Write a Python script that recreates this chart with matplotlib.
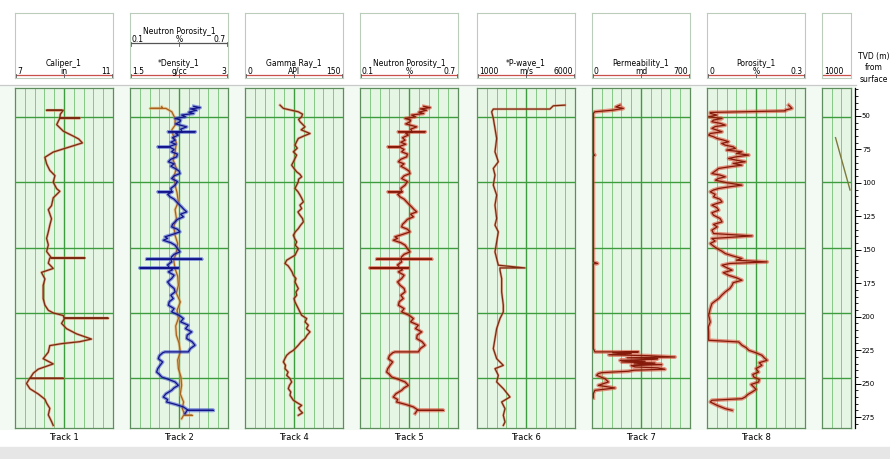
import numpy as np
import matplotlib.pyplot as plt
from matplotlib.ticker import MultipleLocator

# ---- values (depth = TVD in m) ----

# Track 1 : Caliper_1 (in)
cal_depth = [45, 45, 45, 48, 51, 51, 51, 56, 61, 65, 67, 70, 73, 77, 81, 86, 91, 95, 100, 105,
             107, 112, 118, 121, 128, 133, 138, 143, 148, 153, 158, 158, 158, 162, 166, 169, 174,
             179, 184, 189, 194, 198, 200, 202, 204, 204, 204, 208, 212, 216, 220, 222, 223.5,
             225, 230, 235, 239, 243, 246, 250, 250, 250, 254, 258, 262, 266, 269, 273, 278, 283, 286]
cal_in = [8.90, 8.29, 8.97, 8.85, 8.83, 9.64, 8.83, 8.70, 8.97, 9.40, 9.60, 9.75, 9.24, 8.56,
          8.22, 8.29, 8.42, 8.63, 8.56, 8.70, 8.83, 8.56, 8.49, 8.36, 8.49, 8.42, 8.36, 8.29,
          8.36, 8.29, 8.49, 9.85, 8.42, 8.36, 8.56, 8.08, 8.22, 8.15, 8.15, 8.15, 8.22, 8.36,
          8.56, 8.97, 9.00, 10.80, 9.03, 8.90, 9.10, 9.51, 10.12, 9.64, 8.90, 8.42, 8.36, 8.15,
          8.56, 7.95, 7.75, 7.61, 8.97, 7.60, 7.47, 7.61, 7.95, 8.22, 8.29, 8.42, 8.36, 8.49, 8.56]

# Neutron Porosity_1 (shown in Track 2 and Track 5), (depth, fraction)
neu_pts = [(42, 0.49), (43, 0.53), (44, 0.47), (45, 0.508), (46.5, 0.46), (47.5, 0.49),
           (48.7, 0.416), (50, 0.44), (51.3, 0.376), (52.5, 0.41), (53.8, 0.406), (55.5, 0.38),
           (57.7, 0.447), (59.5, 0.41), (61.5, 0.42), (61.5, 0.335), (61.5, 0.498), (61.5, 0.42),
           (62.8, 0.38), (64, 0.396), (66, 0.36), (67.9, 0.376), (69.5, 0.35), (71, 0.38),
           (73, 0.335), (73, 0.273), (73, 0.34), (75, 0.37), (76.8, 0.355), (78.5, 0.39),
           (80.6, 0.386), (82.5, 0.35), (84.4, 0.335), (86, 0.37), (87.8, 0.35), (89.5, 0.376),
           (91.5, 0.40), (93.4, 0.406), (95.2, 0.37), (97.2, 0.355), (99.5, 0.39), (102.3, 0.376),
           (104.8, 0.35), (107.4, 0.355), (107.4, 0.273), (107.4, 0.36), (109.2, 0.33),
           (111.2, 0.345), (113, 0.37), (115.1, 0.386), (117, 0.40), (118.9, 0.416), (120.8, 0.43),
           (122.7, 0.447), (124.5, 0.41), (126.5, 0.427), (128.5, 0.39), (130.4, 0.376),
           (132.3, 0.36), (134.2, 0.355), (136, 0.39), (138, 0.406), (140, 0.36), (141.8, 0.314),
           (143, 0.33), (144.4, 0.304), (146.3, 0.35), (148.2, 0.376), (150.8, 0.39),
           (153.3, 0.406), (155.2, 0.37), (157.1, 0.355), (158.9, 0.35), (158.9, 0.202),
           (158.9, 0.539), (158.9, 0.35), (161, 0.355), (163.3, 0.33), (165.6, 0.34),
           (165.6, 0.161), (165.6, 0.396), (165.6, 0.34), (167, 0.36), (168.6, 0.335),
           (171.2, 0.37), (173.7, 0.355), (176.3, 0.33), (178.8, 0.345), (181.3, 0.37),
           (183.9, 0.376), (186.5, 0.35), (189, 0.365), (191.5, 0.34), (194.1, 0.335),
           (196.7, 0.37), (199.2, 0.355), (201.8, 0.40), (204.3, 0.427), (206.8, 0.41),
           (209.4, 0.457), (212, 0.44), (214.5, 0.478), (217, 0.45), (219.6, 0.447), (222, 0.48),
           (224.7, 0.498), (227.2, 0.47), (229.8, 0.457), (229.8, 0.314), (230.5, 0.30),
           (232.7, 0.28), (235, 0.273), (237.5, 0.30), (240.1, 0.284), (242.6, 0.27),
           (245.2, 0.263), (247, 0.28), (249, 0.294), (251, 0.34), (252.8, 0.376), (255.4, 0.396),
           (257.3, 0.37), (259.2, 0.355), (261.8, 0.32), (264.3, 0.304), (266.2, 0.33),
           (268.1, 0.324), (270, 0.38), (271.9, 0.427), (274.5, 0.457), (274.5, 0.610),
           (274.5, 0.45), (277, 0.437)]

# Track 2 : *Density_1 (g/cc)
den_depth = [42.3, 43.6, 43.6, 43.6, 46.2, 51.3, 56.4, 60, 64, 70, 76.8, 83, 89.5, 96, 102.3, 108,
             115, 121, 127.8, 134, 140.6, 147, 153.3, 160, 166.1, 172, 178.8, 185, 191.6, 198,
             204.3, 210, 217.1, 223, 229.8, 236, 242.6, 249, 255.4, 262, 268.1, 273, 278.3, 278.3,
             278.3, 280.9]
den_gcc = [1.985, 2.0, 1.81, 2.05, 2.14, 2.19, 2.19, 2.14, 2.16, 2.21, 2.19, 2.16, 2.21, 2.17,
           2.19, 2.22, 2.24, 2.19, 2.21, 2.17, 2.19, 2.23, 2.21, 2.17, 2.19, 2.23, 2.24, 2.21,
           2.27, 2.22, 2.24, 2.20, 2.21, 2.25, 2.27, 2.23, 2.24, 2.28, 2.29, 2.27, 2.32, 2.30,
           2.34, 2.45, 2.32, 2.29]

# Track 4 : Gamma Ray_1 (API), (depth, API)
gr_pts = [(41.1, 53.6), (43.6, 58.7), (46.2, 81.6), (48, 88), (50, 86.7), (52, 82), (53.8, 84.2),
          (55.7, 88), (57.7, 91.8), (60, 86), (62.8, 99.5), (64.7, 90), (66.6, 81.6), (69, 79),
          (71.7, 76.5), (74, 80), (76.8, 74.0), (79.3, 79), (81.9, 76.5), (84.5, 74), (87.0, 71.4),
          (89.5, 75), (92.1, 79.1), (94, 84), (95.9, 86.7), (97.8, 82), (99.7, 81.6), (102.3, 79),
          (104.8, 76.5), (107.3, 81), (109.9, 84.2), (112.5, 87), (115.1, 89.3), (117.6, 84),
          (120.2, 86.7), (122.8, 81), (125.3, 84.2), (127.8, 88), (130.4, 89.3), (133, 85),
          (135.5, 81.6), (138, 77), (140.6, 74.0), (143.1, 76), (145.7, 79.1), (148.2, 77),
          (150.8, 81.6), (153.3, 79), (155.9, 76.5), (157.8, 70), (159.7, 63.8), (162.2, 61.2),
          (164, 66), (166.1, 68.9), (168.6, 72), (171.2, 74.0), (173.7, 78), (176.3, 76.5),
          (178.8, 79), (181.4, 81.6), (184, 78), (186.5, 79.1), (189, 75), (191.6, 76.5),
          (194.1, 79), (196.7, 81.6), (199.2, 84), (201.8, 86.7), (204.3, 94.4), (206.9, 92),
          (209.4, 96.9), (212, 94), (214.5, 99.5), (217, 95), (219.6, 91.8), (222, 86),
          (224.7, 81.6), (226.6, 78), (228.6, 74.0), (230.5, 68), (232.4, 63.8), (235, 61),
          (237.5, 58.7), (240, 62), (242.6, 61.2), (245.2, 66), (247.7, 63.8), (250.3, 69),
          (252.8, 71.4), (255.4, 68), (257.9, 66.3), (260.4, 70), (263.0, 68.9), (266.8, 74.0),
          (268.7, 80), (270.7, 86.7), (272.6, 82), (274.5, 84.2), (276.4, 88), (278.3, 81.6)]

# Track 6 : *P-wave_1 (m/s)
pw_depth = [41.1, 41.6, 44.1, 44.1, 46.2, 51.3, 58.9, 66.6, 76.8, 84.4, 89.5, 94.6, 102.3, 109.9,
            117.6, 127.8, 132.9, 138.0, 145.7, 153.3, 158.4, 163.5, 165.6, 165.6, 167.3, 173.7,
            183.9, 194.1, 199.2, 204.3, 212.0, 219.6, 227.3, 235.0, 240.1, 242.6, 247.7, 252.8,
            257.9, 264.3, 268.1, 273.2, 278.3, 283.4, 286]
pw_ms = [5490, 4893, 4723, 1833, 1748, 1833, 1918, 2003, 1918, 2088, 1833, 1918, 1833, 2003, 1918,
         2003, 1918, 2088, 2003, 1918, 2003, 2088, 3448, 2173, 2173, 2258, 2258, 2343, 2343, 2173,
         2003, 1918, 1833, 2003, 2343, 1918, 2088, 2003, 2343, 2683, 2258, 2428, 2343, 2428, 2343]

# Track 7 : Permeability_1 (md)
perm_depth = [41.1, 42.5, 43.6, 44.9, 46.2, 47.4, 76.8, 79.3, 79.3, 80, 140.6, 161.0, 162.2, 162.5,
              227.3, 229.8, 229.8, 230.5, 231.1, 232, 232.7, 233.7, 234.3, 235, 235.5, 236.3, 237,
              237.5, 238.3, 239, 239.5, 240.3, 241.3, 242, 243.1, 243.8, 244.6, 245.2, 245.7,
              246.4, 247.7, 250.3, 252.8, 255.4, 257.4, 259.2, 261.7, 265]
perm_md = [200, 170, 224, 152, 20, 9.5, 9.5, 12, 20, 9.5, 9.5, 9.5, 40, 9.5,
           9.5, 21, 331, 150, 280, 120, 400, 593, 250, 470, 426, 200, 380,
           212, 450, 300, 498, 280, 307, 470, 521, 300, 260, 150, 69,
           45, 33, 93, 117, 45, 164, 21, 9.5, 9.5]

# Track 8 : Porosity_1 (%), (depth, fraction)
por_pts = [(41.1, 0.250), (43.6, 0.260), (44.9, 0.240), (45.5, 0.240), (46.7, 0.010), (47.4, 0.010),
           (48.7, 0.03), (50, 0.005), (51.3, 0.046), (52.5, 0.02), (53.8, 0.015), (55, 0.04),
           (56.4, 0.056), (57.5, 0.025), (58.9, 0.015), (60.2, 0.03), (61.5, 0.046), (62.8, 0.01),
           (64, 0.005), (65.3, 0.02), (66.6, 0.031), (67.8, 0.05), (69.1, 0.066), (70.4, 0.045),
           (71.7, 0.056), (73, 0.08), (74.2, 0.087), (75.5, 0.06), (76.8, 0.107), (78, 0.09),
           (79.3, 0.128), (80.6, 0.09), (81.9, 0.066), (83.2, 0.09), (84.4, 0.117), (85.7, 0.08),
           (87.0, 0.107), (88.2, 0.07), (89.5, 0.036), (91.5, 0.025), (93.4, 0.015), (94.6, 0.04),
           (95.9, 0.056), (97.2, 0.035), (98.5, 0.026), (100.4, 0.06), (102.3, 0.107), (103.5, 0.07),
           (104.8, 0.036), (106, 0.02), (107.4, 0.010), (109.3, 0.025), (111.2, 0.020), (113.1, 0.04),
           (115.1, 0.046), (116.3, 0.03), (117.6, 0.015), (119.5, 0.03), (121.4, 0.036),
           (123.4, 0.015), (125.3, 0.020), (127.8, 0.04), (130.4, 0.046), (132.3, 0.02),
           (134.2, 0.031), (136.7, 0.015), (139.3, 0.020), (141.1, 0.138), (143.1, 0.015),
           (145, 0.025), (146.9, 0.010), (148.9, 0.02), (150.8, 0.031), (152.7, 0.045),
           (154.6, 0.056), (156.5, 0.08), (158.4, 0.107), (159.7, 0.09), (161, 0.184), (162.2, 0.07),
           (163.5, 0.046), (165.4, 0.06), (167.3, 0.077), (169.2, 0.05), (171.2, 0.066),
           (173.1, 0.09), (175, 0.107), (176.9, 0.08), (178.8, 0.077), (181.3, 0.07), (183.9, 0.056),
           (186.5, 0.045), (189.0, 0.036), (190.9, 0.025), (192.9, 0.015), (196.7, 0.010),
           (201.8, 0.005), (206.9, 0.010), (210.7, 0.004), (214.5, 0.005), (220.9, 0.005),
           (222.2, 0.097), (224.7, 0.107), (226.6, 0.12), (228.6, 0.128), (230.5, 0.15),
           (232.4, 0.168), (234.3, 0.175), (236.2, 0.184), (238.1, 0.16), (240.1, 0.168),
           (242.6, 0.15), (245.2, 0.158), (247.1, 0.14), (249.0, 0.143), (250.9, 0.16),
           (252.8, 0.158), (254.7, 0.135), (256.6, 0.143), (258.5, 0.15), (260.5, 0.138),
           (262.4, 0.125), (264.3, 0.117), (265.6, 0.107), (266.8, 0.015), (268.1, 0.010),
           (270.7, 0.031), (273.2, 0.056), (274.5, 0.077)]

# partial track at the right edge
tvd_depth = [66, 106]
tvd_vals = [1140, 1290]

neu_depth, neu_frac = zip(*neu_pts)
gr_depth, gr_api = zip(*gr_pts)
por_depth, por_frac = zip(*por_pts)

W, H = 890, 459
fig = plt.figure(figsize=(W / 100, H / 100), dpi=100)
fig.patch.set_facecolor('white')


def box(x, y, w, h):
    # axes placed in pixel coords, origin at top left
    return fig.add_axes([x / W, 1 - (y + h) / H, w / W, h / H])


GRID_TOP, GRID_BOT = 88, 428
D_TOP, D_BOT = 28, 288
TW = 98
FS = 5.5

bg = box(0, 86, 856, 344)
bg.set_facecolor('#f3faf3')
bg.set_xticks([]); bg.set_yticks([])
for s in bg.spines.values():
    s.set_visible(False)


def track(x, lo, hi, w=TW, n_div=10, major=5):
    ax = box(x, GRID_TOP, w, GRID_BOT - GRID_TOP)
    ax.set_facecolor('#e5f6e5')
    ax.set_xlim(lo, hi)
    ax.set_ylim(D_BOT, D_TOP)
    for i in range(1, n_div):
        v = lo + (hi - lo) * i / n_div
        if i == major:
            ax.axvline(v, color='#3d9c3d', lw=1.0, zorder=1)
        else:
            ax.axvline(v, color='#84c984', lw=0.7, zorder=1)
    for d in range(50, 300, 50):
        ax.axhline(d, color='#3d9c3d', lw=1.0, zorder=1)
    ax.set_xticks([]); ax.set_yticks([])
    for s in ax.spines.values():
        s.set_color('#5e8e5e'); s.set_linewidth(0.9)
    return ax


def curve(ax, vals, depth, core='#7a1e0c', halo='#d9503a', hw=2.2):
    ax.plot(vals, depth, color=halo, lw=hw, alpha=0.55, zorder=2, solid_joinstyle='round')
    ax.plot(vals, depth, color=core, lw=0.9, zorder=3)


def header(x, w=TW):
    hx = box(x, 13, w, 65)
    hx.set_xlim(0, w); hx.set_ylim(78, 13)
    hx.set_xticks([]); hx.set_yticks([])
    for s in hx.spines.values():
        s.set_color('#bacdba'); s.set_linewidth(0.8)
    return hx


def scale(hx, name, lo, unit, hi, y, color='#c8504a', w=TW):
    hx.text(w / 2, y - 12, name, ha='center', va='center', fontsize=FS)
    hx.text(2, y - 3.8, lo, ha='left', va='center', fontsize=FS)
    hx.text(w / 2, y - 3.8, unit, ha='center', va='center', fontsize=FS)
    hx.text(w - 2, y - 3.8, hi, ha='right', va='center', fontsize=FS)
    hx.plot([1, w - 1], [y, y], color=color, lw=0.9, clip_on=False)
    for tx in (1, w / 2, w - 1):
        hx.plot([tx, tx], [y - 1, y + 2.5], color='#555555', lw=0.6, clip_on=False)


track_x = [15, 130, 245, 360, 477, 592, 707]
names = ['Track 1', 'Track 2', 'Track 4', 'Track 5', 'Track 6', 'Track 7', 'Track 8']

# Track 1
ax = track(track_x[0], 7, 11)
curve(ax, cal_in, cal_depth, core='#7a2a12', halo='#e0704a', hw=1.9)
scale(header(track_x[0]), 'Caliper_1', '7', 'in', '11', 75)

# Track 2 : density + neutron porosity
ax = track(track_x[1], 1.5, 3)
curve(ax, den_gcc, den_depth, core='#a8621c', halo='#e8a860')
ax2 = ax.twiny()
ax2.set_xlim(0.1, 0.7)
ax2.axis('off')
curve(ax2, neu_frac, neu_depth, core='#14148a', halo='#3f52d0', hw=2.6)
hx = header(track_x[1])
scale(hx, 'Neutron Porosity_1', '0.1', '%', '0.7', 43, color='#555555')
scale(hx, '*Density_1', '1.5', 'g/cc', '3', 75)

# Track 4
ax = track(track_x[2], 0, 150)
curve(ax, gr_api, gr_depth, core='#7a2a12', halo='#e0704a', hw=2.0)
scale(header(track_x[2]), 'Gamma Ray_1', '0', 'API', '150', 75)

# Track 5
ax = track(track_x[3], 0.1, 0.7)
curve(ax, neu_frac, neu_depth, core='#861a0a', halo='#e0442e', hw=2.6)
scale(header(track_x[3]), 'Neutron Porosity_1', '0.1', '%', '0.7', 75)

# Track 6
ax = track(track_x[4], 1000, 6000)
curve(ax, pw_ms, pw_depth, core='#7a2a12', halo='#e0704a', hw=1.8)
scale(header(track_x[4]), '*P-wave_1', '1000', 'm/s', '6000', 75)

# Track 7
ax = track(track_x[5], 0, 700)
curve(ax, perm_md, perm_depth, core='#861a0a', halo='#e0442e', hw=2.8)
scale(header(track_x[5]), 'Permeability_1', '0', 'md', '700', 75)

# Track 8
ax = track(track_x[6], 0, 0.3)
curve(ax, por_frac, por_depth, core='#861a0a', halo='#e0442e', hw=2.8)
scale(header(track_x[6]), 'Porosity_1', '0', '%', '0.3', 75)

# partial track at the right
ax = track(822, 1000, 1300, w=29, n_div=3, major=None)
ax.plot(tvd_vals, tvd_depth, color='#7d7a3a', lw=1.0, zorder=3)
hx = header(822, w=29)
hx.text(2, 71.2, '1000', ha='left', va='center', fontsize=FS)
hx.plot([1, 28], [75, 75], color='#c8504a', lw=0.9)

for x, n in zip(track_x, names):
    fig.text((x + TW / 2) / W, 1 - 437 / H, n, ha='center', va='center', fontsize=6)

# depth ruler
axd = box(854, GRID_TOP, 1, GRID_BOT - GRID_TOP)
axd.set_ylim(283.2, 29.1)
axd.set_xticks([])
axd.yaxis.tick_right()
axd.yaxis.set_major_locator(MultipleLocator(25))
axd.yaxis.set_minor_locator(MultipleLocator(5))
axd.tick_params(axis='y', which='major', direction='out', length=4, width=0.7, labelsize=5, pad=1)
axd.tick_params(axis='y', which='minor', direction='out', length=2, width=0.6)
for k in ('left', 'top', 'bottom'):
    axd.spines[k].set_visible(False)
axd.spines['right'].set_linewidth(0.9)
axd.set_facecolor('none')

fig.text(858 / W, 1 - 68 / H, 'TVD (m)\nfrom\nsurface', ha='left', va='center',
         fontsize=5.5, multialignment='center', linespacing=1.3)

# header / data separator and bottom strip
fig.add_artist(plt.Line2D([0, 856 / W], [1 - 85 / H] * 2, transform=fig.transFigure,
                          color='#c9c9c9', lw=0.9))
fig.add_artist(plt.Rectangle((0, 0), 1, 12 / H, transform=fig.transFigure,
                             color='#e6e6e6', zorder=-1))

fig.savefig('out.png', dpi=100)
